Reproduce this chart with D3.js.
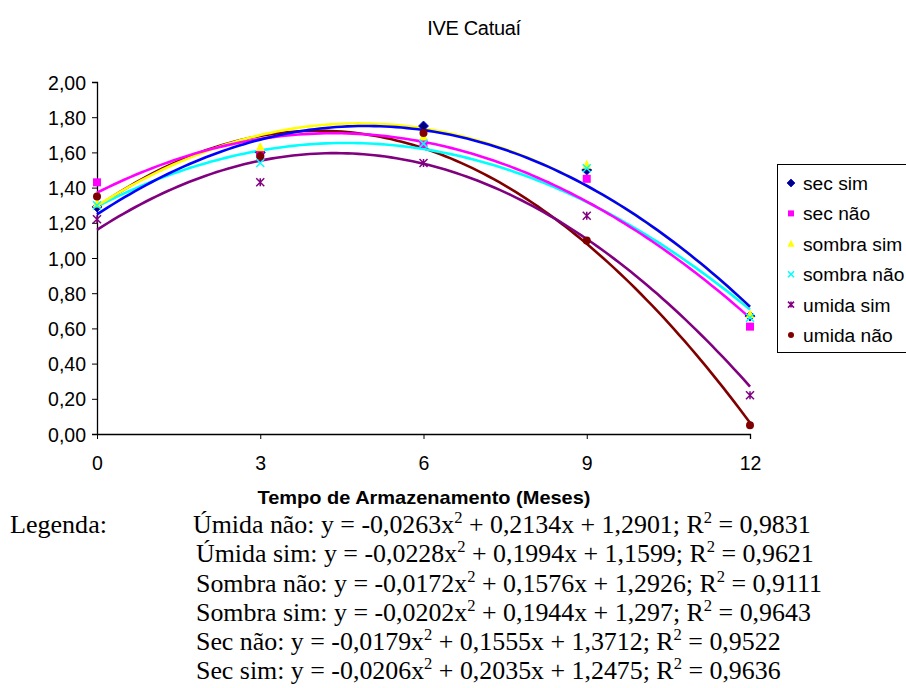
<!DOCTYPE html>
<html><head><meta charset="utf-8">
<script src="https://cdn.jsdelivr.net/npm/d3@7"></script>
<style>body{margin:0;background:#fff}svg{display:block}</style>
</head><body>
<svg id="c" width="906" height="688"></svg>
<script>
const months = [0, 3, 6, 9, 12];
const seriesNames = ["sec sim", "sec não", "sombra sim", "sombra não", "umida sim", "umida não"];
const secSim     = [1.29, 1.60, 1.75, 1.50, 0.67];
const secNao     = [1.43, 1.59, 1.65, 1.45, 0.61];
const sombraSim  = [1.31, 1.63, 1.69, 1.53, 0.68];
const sombraNao  = [1.30, 1.54, 1.65, 1.51, 0.66];
const umidaSim   = [1.22, 1.43, 1.54, 1.24, 0.22];
const umidaNao   = [1.35, 1.58, 1.71, 1.10, 0.05];
// trend line coefficients [a, b, c] for y = a x^2 + b x + c, as printed
const trendSecSim    = [-0.0206, 0.2035, 1.2475];
const trendSecNao    = [-0.0179, 0.1555, 1.3712];
const trendSombraSim = [-0.0202, 0.1944, 1.297];
const trendSombraNao = [-0.0172, 0.1576, 1.2926];
const trendUmidaSim  = [-0.0228, 0.1994, 1.1599];
const trendUmidaNao  = [-0.0263, 0.2134, 1.2901];
const yTicks = [0, 0.2, 0.4, 0.6, 0.8, 1.0, 1.2, 1.4, 1.6, 1.8, 2.0];
const equationLines = [
  ["Úmida não: y = -0,0263x", "2", " + 0,2134x + 1,2901; R", "2", " = 0,9831"],
  ["Úmida sim: y = -0,0228x", "2", " + 0,1994x + 1,1599; R", "2", " = 0,9621"],
  ["Sombra não: y = -0,0172x", "2", " + 0,1576x + 1,2926; R", "2", " = 0,9111"],
  ["Sombra sim: y = -0,0202x", "2", " + 0,1944x + 1,297; R", "2", " = 0,9643"],
  ["Sec não: y = -0,0179x", "2", " + 0,1555x + 1,3712; R", "2", " = 0,9522"],
  ["Sec sim: y = -0,0206x", "2", " + 0,2035x + 1,2475; R", "2", " = 0,9636"]
];

const values = [secSim, secNao, sombraSim, sombraNao, umidaSim, umidaNao];
const trends = [trendSecSim, trendSecNao, trendSombraSim, trendSombraNao, trendUmidaSim, trendUmidaNao];
const lineColors = ["#0000FF", "#FF00FF", "#FFFF00", "#00FFFF", "#800080", "#800000"];
const markerColors = ["#000080", "#FF00FF", "#FFFF00", "#00FFFF", "#800080", "#800000"];
const shapes = ["diamond", "square", "triangle", "x", "asterisk", "circle"];

const sans = "Liberation Sans, Arial, sans-serif";
const serif = "Liberation Serif, Times New Roman, serif";
const svg = d3.select("#c");
const x = d3.scaleLinear().domain([0, 12]).range([97, 750]);
const y = d3.scaleLinear().domain([0, 2]).range([434, 82]);
const fmt = v => d3.format(".2f")(v).replace(".", ",");

svg.append("text").attr("x", 474).attr("y", 35).attr("text-anchor", "middle")
  .attr("font-family", sans).attr("font-size", 20).attr("letter-spacing", -0.3).text("IVE Catuaí");

// axes
const yAxis = svg.append("g").attr("transform", "translate(97,0)")
  .call(d3.axisLeft(y).tickValues(yTicks).tickFormat(fmt).tickSize(5).tickPadding(6));
const xAxis = svg.append("g").attr("transform", "translate(0,434)")
  .call(d3.axisBottom(x).tickValues(months).tickFormat(d3.format("d")).tickSize(5).tickPadding(17));
[yAxis, xAxis].forEach(g => {
  g.select(".domain").attr("stroke", "#000").attr("stroke-width", 1.3);
  g.selectAll(".tick line").attr("stroke", "#000");
  g.selectAll("text").attr("font-family", sans).attr("font-size", 19.5).attr("fill", "#000");
});
xAxis.select(".domain").attr("d", "M97,0.5H750.5V5");
yAxis.selectAll("text").attr("dy", "0.36em");

svg.append("text").attr("x", 424).attr("y", 504).attr("text-anchor", "middle")
  .attr("font-family", sans).attr("font-size", 19).attr("font-weight", "bold")
  .attr("textLength", 333).attr("lengthAdjust", "spacingAndGlyphs")
  .text("Tempo de Armazenamento (Meses)");

// trend lines (drawn in reverse series order)
const xs = d3.range(0, 12.001, 0.1);
const line = d3.line().x(d => x(d[0])).y(d => y(d[1]));
for (let i = trends.length - 1; i >= 0; i--) {
  const [a, b, c] = trends[i];
  svg.append("path").attr("d", line(xs.map(t => [t, a * t * t + b * t + c])))
    .attr("fill", "none").attr("stroke", lineColors[i]).attr("stroke-width", 2.6);
}

function marker(g, shape, color, cx, cy, s) {
  const h = s / 2;
  if (shape === "diamond") g.append("path").attr("d", `M${cx},${cy-h-1}L${cx+h+1},${cy}L${cx},${cy+h+1}L${cx-h-1},${cy}Z`).attr("fill", color).attr("stroke", "#0000FF").attr("stroke-width", 0.8);
  else if (shape === "square") g.append("rect").attr("x", cx - h).attr("y", cy - h).attr("width", s).attr("height", s).attr("fill", color);
  else if (shape === "triangle") g.append("path").attr("d", `M${cx},${cy-h-1}L${cx+h+0.5},${cy+h}L${cx-h-0.5},${cy+h}Z`).attr("fill", color);
  else if (shape === "x") g.append("path").attr("d", `M${cx-h},${cy-h}L${cx+h},${cy+h}M${cx+h},${cy-h}L${cx-h},${cy+h}`).attr("stroke", color).attr("stroke-width", 1.5);
  else if (shape === "asterisk") g.append("path").attr("d", `M${cx-h},${cy-h}L${cx+h},${cy+h}M${cx+h},${cy-h}L${cx-h},${cy+h}M${cx},${cy-h}L${cx},${cy+h}`).attr("stroke", color).attr("stroke-width", 1.5);
  else if (shape === "circle") g.append("circle").attr("cx", cx).attr("cy", cy).attr("r", h).attr("fill", color);
}

const mg = svg.append("g");
values.forEach((vals, i) => {
  vals.forEach((v, j) => marker(mg, shapes[i], markerColors[i], x(months[j]), y(v), 8));
});

// legend
const lg = svg.append("g");
lg.append("rect").attr("x", 777.5).attr("y", 164.5).attr("width", 140).attr("height", 188)
  .attr("fill", "#fff").attr("stroke", "#000").attr("stroke-width", 1);
seriesNames.forEach((n, i) => {
  const cy = 183 + i * 30.4;
  marker(lg, shapes[i], markerColors[i], 791, cy, 6);
  lg.append("text").attr("x", 803).attr("y", cy).attr("dy", "0.36em")
    .attr("font-family", sans).attr("font-size", 19.2).text(n);
});

// equations
function fitText(t, x0, y0, target) {
  const w = t.node().getBBox().width;
  const s = target / w;
  t.attr("transform", `translate(${x0},${y0}) scale(${s},1) translate(${-x0},${-y0})`);
  return s;
}
const leg = svg.append("text").attr("x", 10).attr("y", 533).attr("font-family", serif).attr("font-size", 25).text("Legenda:");
fitText(leg, 10, 533, 97);
const eqG = svg.append("g");
let sc = null;
equationLines.forEach((parts, i) => {
  const x0 = i === 0 ? 193 : 196;
  const y0 = 533 + i * 29.3;
  const t = eqG.append("text").attr("x", x0).attr("y", y0).attr("font-family", serif).attr("font-size", 25);
  parts.forEach((p, k) => {
    const ts = t.append("tspan").text(p);
    if (k === 1 || k === 3) ts.attr("font-size", 16).attr("dy", -10);
    else if (k === 2 || k === 4) ts.attr("dy", 10);
  });
  if (sc === null) sc = fitText(t, x0, y0, 618);
  else t.attr("transform", `translate(${x0},${y0}) scale(${sc},1) translate(${-x0},${-y0})`);
});
</script>
</body></html>
